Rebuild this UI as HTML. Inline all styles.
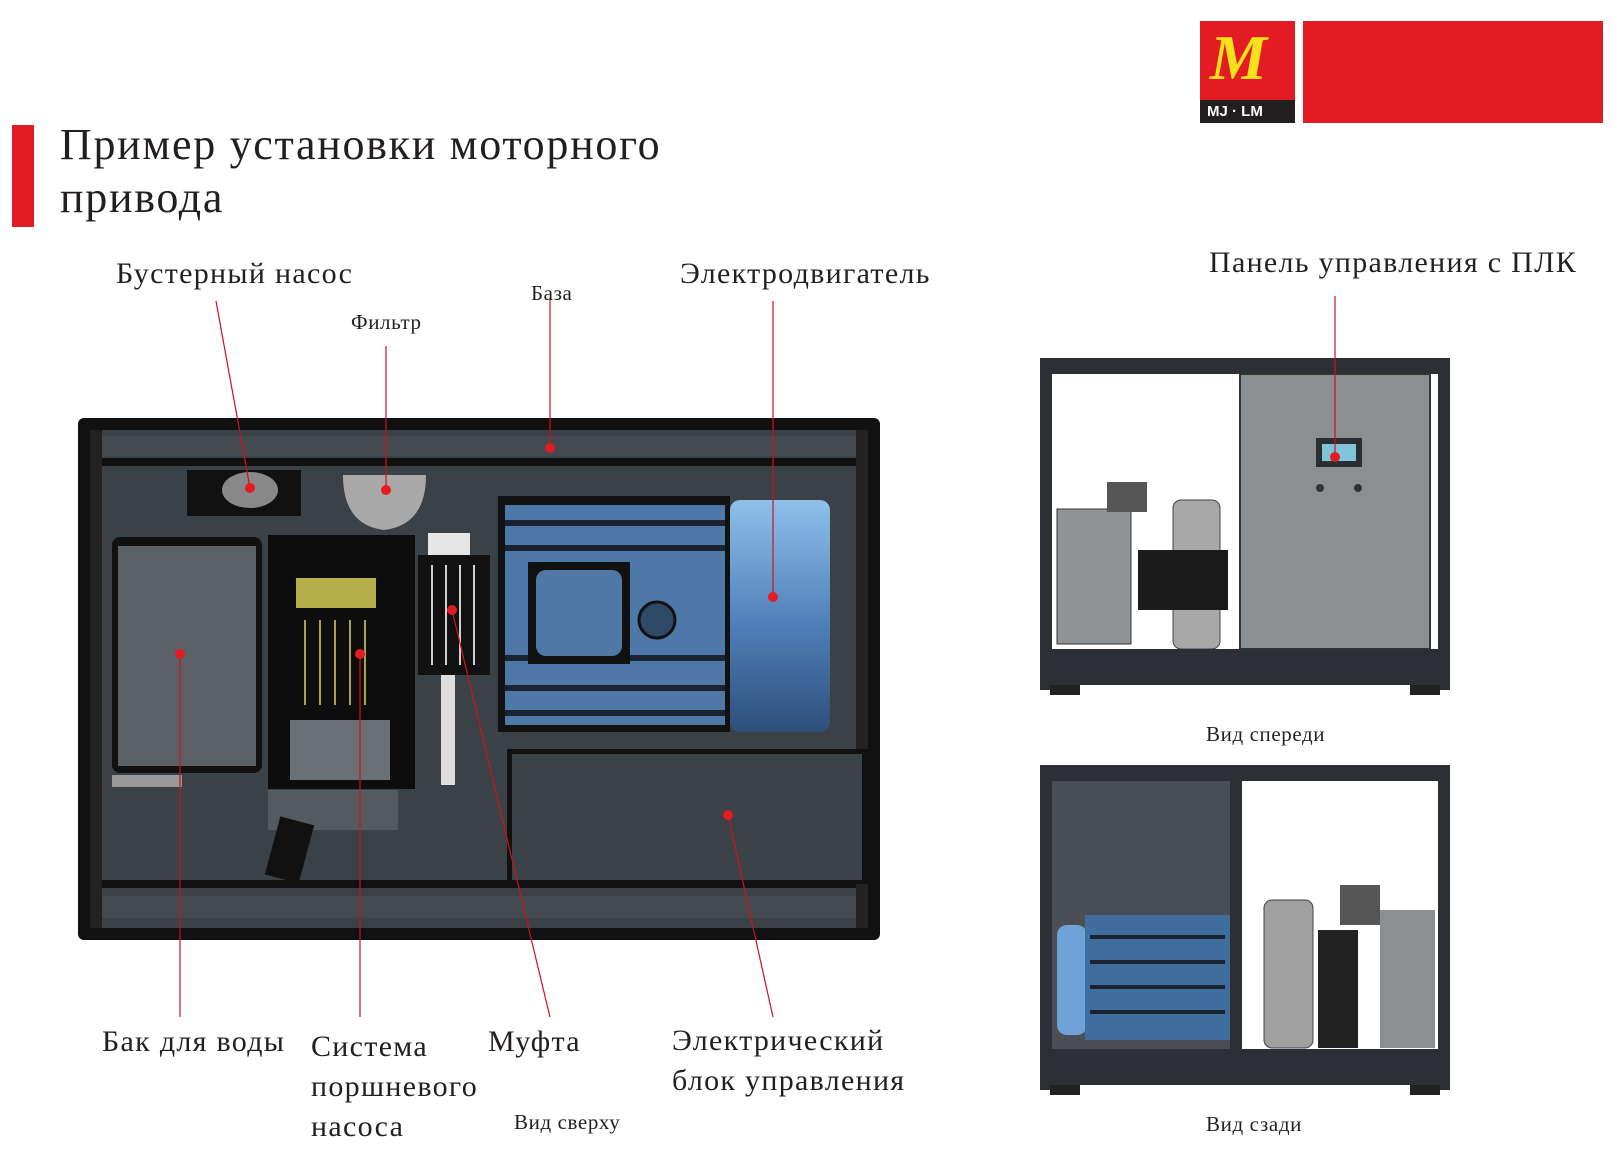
<!DOCTYPE html>
<html><head><meta charset="utf-8"><style>
body{margin:0;width:1621px;height:1171px;background:#fff;position:relative;overflow:hidden;font-family:"Liberation Serif","DejaVu Serif",serif;color:#231f20}
.t{position:absolute;white-space:nowrap;line-height:1}
.b{font-size:30px;letter-spacing:1.3px}
.s{font-size:21px;letter-spacing:0.6px}
svg{position:absolute;left:0;top:0}
</style></head><body>
<svg width="1621" height="1171" viewBox="0 0 1621 1171">
<rect x="12" y="125" width="22" height="102" fill="#e31b23"/>
<rect x="1200" y="21" width="95" height="102" fill="#e31b23"/>
<rect x="1200" y="100" width="95" height="23" fill="#231f20"/>
<rect x="1303" y="21" width="300" height="102" fill="#e31b23"/>
<!-- TOP VIEW -->
<rect x="78" y="418" width="802" height="522" rx="6" fill="#111"/>
<rect x="90" y="430" width="778" height="498" fill="#3a4147"/>
<rect x="100" y="436" width="758" height="20" fill="#434b51"/>
<rect x="90" y="458" width="778" height="8" fill="#111"/>
<rect x="90" y="880" width="778" height="8" fill="#111"/>
<rect x="100" y="896" width="758" height="22" fill="#434b51"/>
<rect x="90" y="430" width="12" height="498" fill="#222"/>
<rect x="856" y="430" width="12" height="498" fill="#222"/>
<rect x="187" y="470" width="114" height="46" fill="#111"/>
<ellipse cx="250" cy="490" rx="28" ry="18" fill="#888"/>
<path d="M343 475 h83 q0 50 -42 55 q-41 -5 -41 -55z" fill="#a9a9a9"/>
<rect x="112" y="537" width="150" height="236" rx="8" fill="#111"/>
<rect x="118" y="546" width="138" height="220" fill="#5b6166"/>
<rect x="112" y="775" width="70" height="12" fill="#999"/>
<rect x="268" y="535" width="147" height="254" fill="#0d0d0d"/>
<rect x="296" y="578" width="80" height="30" fill="#b6b04a"/>
<g stroke="#a8a24a" stroke-width="2"><line x1="305" y1="620" x2="305" y2="705"/><line x1="320" y1="620" x2="320" y2="705"/><line x1="335" y1="620" x2="335" y2="705"/><line x1="350" y1="620" x2="350" y2="705"/><line x1="365" y1="620" x2="365" y2="705"/></g>
<rect x="290" y="720" width="100" height="60" fill="#6b7075"/>
<rect x="268" y="790" width="130" height="40" fill="#555a5e"/>
<rect x="272" y="820" width="35" height="60" fill="#111" transform="rotate(15 290 850)"/>
<rect x="428" y="533" width="42" height="22" fill="#e6e6e6"/>
<rect x="418" y="555" width="72" height="120" fill="#111"/>
<g stroke="#cfcfcf" stroke-width="2"><line x1="432" y1="565" x2="432" y2="665"/><line x1="446" y1="565" x2="446" y2="665"/><line x1="460" y1="565" x2="460" y2="665"/><line x1="474" y1="565" x2="474" y2="665"/></g>
<rect x="441" y="675" width="14" height="110" fill="#ddd"/>
<rect x="498" y="496" width="232" height="236" fill="#111"/>
<rect x="505" y="505" width="220" height="220" fill="#4d78a8"/>
<g fill="#1a2430"><rect x="505" y="520" width="220" height="6"/><rect x="505" y="545" width="220" height="6"/><rect x="505" y="655" width="220" height="6"/><rect x="505" y="685" width="220" height="6"/><rect x="505" y="710" width="220" height="6"/></g>
<rect x="528" y="562" width="102" height="102" fill="#111"/>
<rect x="536" y="570" width="86" height="86" rx="10" fill="#4f78a6"/>
<circle cx="657" cy="620" r="18" fill="#2f4a66" stroke="#111" stroke-width="3"/>
<defs><linearGradient id="fan" x1="0" y1="0" x2="0" y2="1"><stop offset="0" stop-color="#8ec0ea"/><stop offset="0.55" stop-color="#4e7eb6"/><stop offset="1" stop-color="#2e4f7a"/></linearGradient></defs>
<rect x="730" y="500" width="100" height="232" rx="10" fill="url(#fan)"/>
<rect x="507" y="749" width="363" height="135" fill="#111"/>
<rect x="512" y="754" width="350" height="126" fill="#3c4348"/>
<!-- FRONT VIEW -->
<rect x="1040" y="358" width="410" height="16" fill="#2c3034"/>
<rect x="1040" y="358" width="12" height="332" fill="#2c3034"/>
<rect x="1438" y="358" width="12" height="332" fill="#2c3034"/>
<rect x="1240" y="374" width="190" height="275" fill="#8c8f92" stroke="#333" stroke-width="2"/>
<rect x="1316" y="438" width="46" height="29" fill="#2a2e31"/>
<rect x="1322" y="444" width="34" height="17" fill="#7fc4d8"/>
<circle cx="1320" cy="488" r="4" fill="#333"/><circle cx="1358" cy="488" r="4" fill="#333"/>
<rect x="1057" y="509" width="74" height="135" fill="#8f9396" stroke="#333"/>
<rect x="1107" y="482" width="40" height="30" fill="#555"/>
<rect x="1173" y="500" width="47" height="149" rx="8" fill="#a8a8a8" stroke="#444"/>
<rect x="1138" y="550" width="90" height="60" fill="#1b1b1b"/>
<rect x="1040" y="649" width="410" height="36" fill="#2c3034"/>
<rect x="1050" y="685" width="30" height="10" fill="#222"/><rect x="1410" y="685" width="30" height="10" fill="#222"/>
<!-- BACK VIEW -->
<rect x="1040" y="765" width="410" height="16" fill="#2c3034"/>
<rect x="1040" y="765" width="12" height="325" fill="#2c3034"/>
<rect x="1438" y="765" width="12" height="325" fill="#2c3034"/>
<rect x="1052" y="781" width="178" height="268" fill="#4a4f53"/>
<rect x="1230" y="781" width="12" height="268" fill="#2c3034"/>
<rect x="1057" y="925" width="30" height="110" rx="10" fill="#6fa2d6"/>
<rect x="1085" y="915" width="145" height="125" fill="#3f6d9e"/>
<g fill="#1a2430"><rect x="1090" y="935" width="135" height="4"/><rect x="1090" y="960" width="135" height="4"/><rect x="1090" y="985" width="135" height="4"/><rect x="1090" y="1010" width="135" height="4"/></g>
<rect x="1264" y="900" width="49" height="148" rx="8" fill="#a0a0a0" stroke="#444"/>
<rect x="1318" y="930" width="40" height="118" fill="#222"/>
<rect x="1340" y="885" width="40" height="40" fill="#555"/>
<rect x="1380" y="910" width="55" height="138" fill="#8c8f92"/>
<rect x="1040" y="1049" width="410" height="36" fill="#2c3034"/>
<rect x="1050" y="1085" width="30" height="10" fill="#222"/><rect x="1410" y="1085" width="30" height="10" fill="#222"/>
<g stroke="#d0111c" stroke-width="1.2">
<line x1="216" y1="301" x2="250" y2="488"/><line x1="386" y1="346" x2="386" y2="490"/>
<line x1="550" y1="298" x2="550" y2="448"/><line x1="773" y1="301" x2="773" y2="597"/>
<line x1="180" y1="654" x2="180" y2="1017"/><line x1="360" y1="654" x2="360" y2="1017"/>
<line x1="452" y1="610" x2="550" y2="1017"/><line x1="728" y1="815" x2="773" y2="1017"/>
<line x1="1335" y1="296" x2="1335" y2="457"/></g>
<g fill="#e31b23"><circle cx="250" cy="488" r="5"/><circle cx="386" cy="490" r="5"/><circle cx="550" cy="448" r="5"/><circle cx="773" cy="597" r="5"/><circle cx="180" cy="654" r="5"/><circle cx="360" cy="654" r="5"/><circle cx="452" cy="610" r="5"/><circle cx="728" cy="815" r="5"/><circle cx="1335" cy="457" r="5"/></g>
</svg>
<div class="t" style="left:1210px;top:26px;font-size:64px;font-style:italic;color:#f7e11b;font-weight:bold">M</div>
<div class="t" style="left:1207px;top:104px;font-size:15px;color:#fff;font-family:'Liberation Sans',sans-serif;font-weight:bold">MJ · LM</div>
<div class="t" style="left:60px;top:123px;font-size:44px;letter-spacing:1.7px">Пример установки моторного</div>
<div class="t" style="left:60px;top:176px;font-size:44px;letter-spacing:1.7px">привода</div>
<div class="t b" style="left:116px;top:259px">Бустерный насос</div>
<div class="t s" style="left:351px;top:312px">Фильтр</div>
<div class="t s" style="left:531px;top:283px">База</div>
<div class="t b" style="left:680px;top:259px">Электродвигатель</div>
<div class="t b" style="left:1209px;top:248px">Панель управления с ПЛК</div>
<div class="t b" style="left:102px;top:1027px">Бак для воды</div>
<div class="t b" style="left:311px;top:1027px;line-height:40px">Система<br>поршневого<br>насоса</div>
<div class="t b" style="left:488px;top:1027px">Муфта</div>
<div class="t b" style="left:672px;top:1021px;line-height:40px">Электрический<br>блок управления</div>
<div class="t s" style="left:514px;top:1112px">Вид сверху</div>
<div class="t s" style="left:1206px;top:724px">Вид спереди</div>
<div class="t s" style="left:1206px;top:1114px">Вид сзади</div>
</body></html>
